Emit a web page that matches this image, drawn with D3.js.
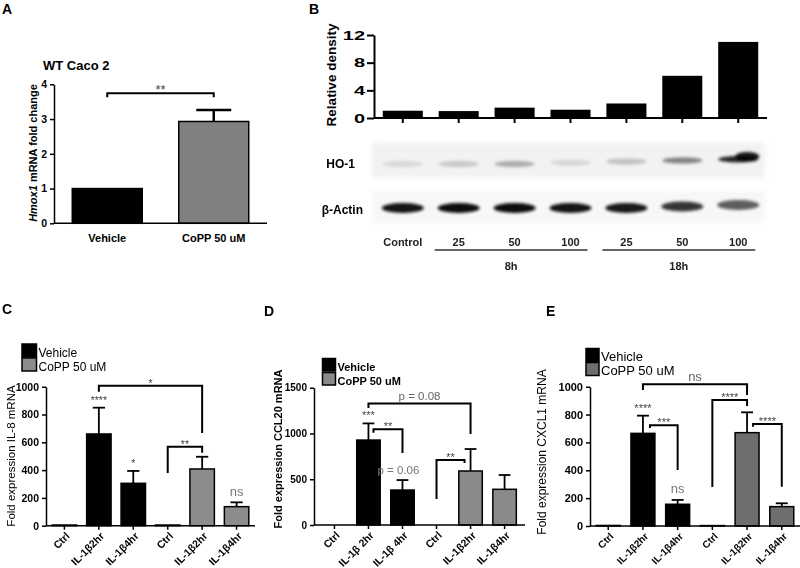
<!DOCTYPE html>
<html><head><meta charset="utf-8">
<script src="https://cdn.jsdelivr.net/npm/d3@7"></script>
<style>
body{margin:0;background:#fff}
svg text{font-family:"Liberation Sans",Arial,Helvetica,sans-serif}
</style>
</head><body>
<svg id="c" width="800" height="568"></svg>
<script>
// ---------------- DATA ----------------
// Panel A
const aCategories = ["Vehicle", "CoPP 50 uM"];
const aValues = [1.0, 2.93];
const aErrors = [0, 0.33];
const aTicks = [0, 1, 2, 3, 4];

// Panel B
const bCategories = ["Control", "25", "50", "100", "25", "50", "100"];
const bValues = [1.05, 1.0, 1.5, 1.2, 2.1, 6.1, 11.0];
const bTicks = [0, 4, 8, 12];
const bGroups = [{label: "8h", from: 1, to: 3}, {label: "18h", from: 4, to: 6}];
const blotHO1 = [0.10, 0.16, 0.28, 0.11, 0.20, 0.45, 0.85];
const blotActin = [0.92, 0.95, 0.95, 0.92, 0.9, 0.78, 0.62];

// Panels C, D, E
const seriesNames = ["Vehicle", "CoPP 50 uM"];
const seriesOfBar = [0, 0, 0, 1, 1, 1];
const cCategories = ["Ctrl", "IL-1β2hr", "IL-1β4hr", "Ctrl", "IL-1β2hr", "IL-1β4hr"];
const dCategories = ["Ctrl", "IL-1β 2hr", "IL-1β 4hr", "Ctrl", "IL-1β2hr", "IL-1β4hr"];
const eCategories = ["Ctrl", "IL-1β2hr", "IL-1β4hr", "Ctrl", "IL-1β2hr", "IL-1β4hr"];
const cValues = [5, 660, 305, 5, 408, 137];
const cErrors = [0, 189, 89, 0, 88, 31];
const dValues = [0, 928, 382, 0, 590, 390];
const dErrors = [0, 182, 109, 0, 240, 156];
const eValues = [4, 665, 156, 3, 670, 139];
const eErrors = [0, 127, 31, 0, 146, 24];
const cTicks = [0, 200, 400, 600, 800, 1000];
const dTicks = [0, 500, 1000, 1500];
const eTicks = [0, 200, 400, 600, 800, 1000];

// significance annotations (bar indices, levels in data units)
const aBrackets = [{a: 0, b: 1, y: 3.74, ya: 3.63, yb: 3.63, label: "**"}];
const cBrackets = [
  {a: 1, b: 4, y: 1007, ya: 964, yb: 667, label: "*"},
  {a: 3, b: 4, y: 568, ya: 379, yb: 525, label: "**"}
];
const cMarks = [{i: 1, label: "****"}, {i: 2, label: "*"}, {i: 5, label: "ns"}];
const dBrackets = [
  {a: 1, b: 4, y: 1328, ya: 1277, yb: 993, label: "p = 0.08"},
  {a: 1, b: 2, da: 5, y: 1045, ya: 1008, yb: 786, label: "**"},
  {a: 3, b: 4, db: -6, y: 710, ya: 284, yb: 677, label: "**"}
];
const dMarks = [{i: 1, label: "***"}, {i: 2, label: "p = 0.06", dx: -4}];
const eBrackets = [
  {a: 1, b: 4, y: 1017, ya: 976, yb: 940, label: "ns"},
  {a: 3, b: 4, y: 905, ya: 280, yb: 861, label: "****"},
  {a: 1, b: 2, da: 7, y: 723, ya: 703, yb: 402, label: "***"},
  {a: 4, b: 5, da: 6, y: 732, ya: 713, yb: 282, label: "****"}
];
const eMarks = [{i: 1, label: "****"}, {i: 2, label: "ns"}];

// ---------------- DRAWING ----------------
const svg = d3.select("#c");
const FONT = '"Liberation Sans", Arial, Helvetica, sans-serif';

function panelLetter(t, x, y) {
  svg.append("text").attr("x", x).attr("y", y).text(t)
    .attr("font-size", 14).attr("font-weight", "bold").attr("fill", "#000");
}

function barPanel(cfg) {
  const g = svg.append("g");
  const n = cfg.values.length;
  const x = d3.scaleBand().domain(d3.range(n)).range(cfg.xRange)
    .paddingInner(cfg.pi).paddingOuter(cfg.po);
  const y = d3.scaleLinear().domain(cfg.domain).range(cfg.yRange);
  const bw = x.bandwidth();
  const cx = i => x(i) + bw / 2;

  // bars
  g.selectAll("rect.bar").data(cfg.values).join("rect").attr("class", "bar")
    .attr("x", (d, i) => x(i)).attr("width", bw)
    .attr("y", d => y(d)).attr("height", d => y(0) - y(d))
    .attr("fill", (d, i) => cfg.colors[i])
    .attr("stroke", "#000").attr("stroke-width", cfg.barStroke);

  // error bars
  if (cfg.errors) {
    const eg = g.append("g").attr("stroke", "#000").attr("stroke-width", cfg.errStroke);
    cfg.errors.forEach((e, i) => {
      if (!e) return;
      const v = cfg.values[i];
      eg.append("line").attr("x1", cx(i)).attr("x2", cx(i)).attr("y1", y(v)).attr("y2", y(v + e));
      eg.append("line").attr("x1", cx(i) - bw / 4).attr("x2", cx(i) + bw / 4)
        .attr("y1", y(v + e)).attr("y2", y(v + e));
    });
  }

  // y axis
  const ya = g.append("g").attr("transform", `translate(${cfg.xRange[0]},0)`)
    .call(d3.axisLeft(y).tickValues(cfg.ticks).tickSize(cfg.yTickSize || 4)
      .tickSizeOuter(0).tickPadding(3).tickFormat(d3.format("d")));
  ya.select(".domain").attr("stroke-width", cfg.axisStroke);
  ya.selectAll(".tick line").attr("stroke-width", cfg.axisStroke);
  ya.selectAll("text").attr("font-family", FONT).attr("font-size", cfg.tickFont)
    .attr("font-weight", "bold").attr("fill", "#000");
  if (cfg.tickScaleX) {
    ya.selectAll("text").attr("transform", `scale(${cfg.tickScaleX},1)`)
      .attr("x", -(cfg.yTickSize + 2) / cfg.tickScaleX);
  }

  // x axis
  const xa = g.append("g").attr("transform", `translate(0,${y(0)})`)
    .call(d3.axisBottom(x).tickSize(cfg.xTickSize).tickSizeOuter(0)
      .tickFormat(i => cfg.categories ? cfg.categories[i] : ""));
  xa.select(".domain").attr("stroke-width", cfg.axisStroke).attr("d", `M${cfg.xRange[0]},0H${cfg.xRange[1]}`);
  xa.selectAll(".tick line").attr("stroke-width", cfg.axisStroke);
  const xt = xa.selectAll("text").attr("font-family", FONT).attr("font-size", cfg.xFont)
    .attr("font-weight", "bold").attr("fill", "#000");
  if (cfg.rotate) {
    xt.attr("x", 0).attr("y", 0).attr("dy", 0)
      .attr("text-anchor", "end")
      .attr("transform", `translate(${cfg.rotDx},${cfg.rotDy}) rotate(-45)`);
  } else {
    xt.attr("y", cfg.xLabelDy || 8);
  }

  // y label
  if (cfg.yLabel) {
    const t = g.append("text")
      .attr("transform", `translate(${cfg.yLabelX},${cfg.yLabelY}) rotate(-90)`)
      .attr("text-anchor", "middle").attr("font-size", cfg.yLabelFont)
      .attr("font-weight", cfg.yLabelWeight || "bold").attr("fill", "#000");
    cfg.yLabel.forEach(p => t.append("tspan").text(p.t).attr("font-style", p.italic ? "italic" : null));
  }

  // brackets
  (cfg.brackets || []).forEach(b => {
    const xa_ = cx(b.a) + (b.da || 0), xb_ = cx(b.b) + (b.db || 0);
    g.append("path")
      .attr("d", `M${xa_},${y(b.ya)}V${y(b.y)}H${xb_}V${y(b.yb)}`)
      .attr("fill", "none").attr("stroke", "#000").attr("stroke-width", cfg.bracketStroke);
    const isStar = b.label[0] === "*";
    g.append("text").attr("x", (xa_ + xb_) / 2)
      .attr("y", y(b.y) + (isStar ? 1 : -3.5))
      .attr("text-anchor", "middle").text(b.label)
      .attr("font-size", isStar ? cfg.starFont : cfg.noteFont)
      .attr("fill", isStar ? "#444" : "#666");
  });
  (cfg.marks || []).forEach(m => {
    const isStar = m.label[0] === "*";
    const top = cfg.values[m.i] + (cfg.errors ? cfg.errors[m.i] : 0);
    g.append("text").attr("x", cx(m.i) + (m.dx || 0))
      .attr("y", y(top) - (isStar ? 4 : 6.5))
      .attr("text-anchor", "middle").text(m.label)
      .attr("font-size", isStar ? cfg.starFont : cfg.noteFont)
      .attr("fill", isStar ? "#444" : "#777");
  });

  // legend
  if (cfg.legend) {
    const L = cfg.legend;
    seriesNames.forEach((s, k) => {
      g.append("rect").attr("x", L.x).attr("y", L.y + k * L.dy)
        .attr("width", L.w).attr("height", L.h)
        .attr("fill", k === 0 ? "#000" : cfg.gray).attr("stroke", "#000").attr("stroke-width", 1.5);
      g.append("text").attr("x", L.x + L.w + 2).attr("y", L.y + k * L.dy + L.h - 0.5)
        .text(s).attr("font-size", L.font).attr("font-weight", L.weight || "normal").attr("fill", "#000");
    });
  }
  return {g, x, y, cx, bw};
}

// ----- Panel A -----
panelLetter("A", 2, 14);
svg.append("text").attr("x", 43).attr("y", 70).text("WT Caco 2")
  .attr("font-size", 13).attr("font-weight", "bold");
barPanel({
  values: aValues, errors: aErrors, categories: aCategories,
  colors: ["#000", "#808080"],
  xRange: [54, 267], pi: 0.343, po: 0.1715,
  domain: [0, 4], yRange: [223.3, 84.3], ticks: aTicks,
  barStroke: 1.5, errStroke: 2.5, axisStroke: 1.5, tickFont: 10.5, yTickSize: 4,
  xTickSize: 0, xFont: 11, xLabelDy: 11,
  yLabel: [{t: "Hmox1", italic: true}, {t: " mRNA fold change"}],
  yLabelX: 37, yLabelY: 153, yLabelFont: 11,
  brackets: aBrackets, bracketStroke: 2, starFont: 13, noteFont: 12
});

// ----- Panel B -----
panelLetter("B", 309, 14);
const B = barPanel({
  values: bValues, colors: bValues.map(() => "#000"),
  xRange: [374, 767], pi: 0.284, po: 0.157,
  domain: [0, 12], yRange: [118, 35], ticks: bTicks,
  barStroke: 0, axisStroke: 2, tickFont: 12.5, tickScaleX: 1.6, yTickSize: 7,
  xTickSize: 5, xFont: 10,
  yLabel: [{t: "Relative density"}], yLabelX: 336, yLabelY: 75, yLabelFont: 13.5,
  bracketStroke: 2
});

// western blot
const defs = svg.append("defs");
defs.append("filter").attr("id", "blur").attr("x", "-30%").attr("y", "-100%")
  .attr("width", "160%").attr("height", "300%")
  .append("feGaussianBlur").attr("stdDeviation", 1.6);
defs.append("filter").attr("id", "blur2").attr("x", "-10%").attr("y", "-50%")
  .attr("width", "120%").attr("height", "200%")
  .append("feGaussianBlur").attr("stdDeviation", 2.5);
svg.append("rect").attr("x", 372).attr("y", 143).attr("width", 393).attr("height", 35)
  .attr("fill", "#f2f2f2").attr("filter", "url(#blur2)");
svg.append("rect").attr("x", 372).attr("y", 191).attr("width", 393).attr("height", 32)
  .attr("fill", "#f7f7f7").attr("filter", "url(#blur2)");
const blot = svg.append("g").attr("filter", "url(#blur)");
blot.selectAll("ellipse.ho").data(blotHO1).join("ellipse").attr("class", "ho")
  .attr("cx", (d, i) => B.cx(i)).attr("cy", (d, i) => 164 - (i > 2 ? (i - 2) * 1.2 : 0))
  .attr("rx", 20).attr("ry", 3.2).attr("fill", "#000").attr("opacity", d => d);
// strong right part of last HO-1 band
blot.append("ellipse").attr("cx", B.cx(6) + 9).attr("cy", 156.5).attr("rx", 12).attr("ry", 4.5)
  .attr("fill", "#000").attr("opacity", 0.9);
blot.selectAll("ellipse.ac").data(blotActin).join("ellipse").attr("class", "ac")
  .attr("cx", (d, i) => B.cx(i)).attr("cy", (d, i) => 208 - (i > 4 ? (i - 4) * 1.5 : 0))
  .attr("rx", 21).attr("ry", 5).attr("fill", "#000").attr("opacity", d => d);
svg.append("text").attr("x", 355).attr("y", 167.5).attr("text-anchor", "end")
  .text("HO-1").attr("font-size", 12).attr("font-weight", "bold");
svg.append("text").attr("x", 363).attr("y", 213.5).attr("text-anchor", "end")
  .text("β-Actin").attr("font-size", 12).attr("font-weight", "bold");
svg.selectAll("text.blab").data(bCategories).join("text").attr("class", "blab")
  .attr("x", (d, i) => B.cx(i)).attr("y", 246).attr("text-anchor", "middle")
  .text(d => d).attr("font-size", 11).attr("font-weight", "bold").attr("fill", "#222");
bGroups.forEach(gr => {
  const x1 = B.x(gr.from) - 4, x2 = B.x(gr.to) + B.bw - 3;
  svg.append("line").attr("x1", x1).attr("x2", x2).attr("y1", 250).attr("y2", 250)
    .attr("stroke", "#333").attr("stroke-width", 1.5);
  svg.append("text").attr("x", (x1 + x2) / 2).attr("y", 270).attr("text-anchor", "middle")
    .text(gr.label).attr("font-size", 11).attr("font-weight", "bold").attr("fill", "#222");
});

// ----- Panel C -----
panelLetter("C", 2, 314);
barPanel({
  values: cValues, errors: cErrors, categories: cCategories,
  colors: seriesOfBar.map(s => s ? "#8c8c8c" : "#000"), gray: "#8c8c8c",
  xRange: [46, 255], pi: 0.29, po: 0.18,
  domain: [0, 1000], yRange: [525.7, 386.7], ticks: cTicks,
  barStroke: 1.5, errStroke: 1.8, axisStroke: 1.5, tickFont: 10.5, yTickSize: 4,
  xTickSize: 4, xFont: 10.5, rotate: true, rotDx: 6, rotDy: 11,
  yLabel: [{t: "Fold expression IL-8 mRNA"}], yLabelX: 14.5, yLabelY: 456, yLabelFont: 11.5, yLabelWeight: "normal",
  brackets: cBrackets, marks: cMarks, bracketStroke: 2, starFont: 10.5, noteFont: 13,
  legend: {x: 22, y: 344, w: 14.5, h: 13, dy: 14, font: 12}
});

// ----- Panel D -----
panelLetter("D", 264, 316);
barPanel({
  values: dValues, errors: dErrors, categories: dCategories,
  colors: seriesOfBar.map(s => s ? "#8a8a8a" : "#000"), gray: "#8a8a8a",
  xRange: [314, 525], pi: 0.31, po: 0.255,
  domain: [0, 1500], yRange: [525, 387.7], ticks: dTicks,
  barStroke: 1.5, errStroke: 1.8, axisStroke: 1.5, tickFont: 10, yTickSize: 4,
  xTickSize: 4, xFont: 10.5, rotate: true, rotDx: 6, rotDy: 11,
  yLabel: [{t: "Fold expression CCL20 mRNA"}], yLabelX: 282, yLabelY: 449, yLabelFont: 11, yLabelWeight: "bold",
  brackets: dBrackets, marks: dMarks, bracketStroke: 2, starFont: 11, noteFont: 11.5,
  legend: {x: 322.5, y: 358.5, w: 13, h: 12.5, dy: 14, font: 11, weight: "bold"}
});

// ----- Panel E -----
panelLetter("E", 546, 316);
barPanel({
  values: eValues, errors: eErrors, categories: eCategories,
  colors: seriesOfBar.map(s => s ? "#6e6e6e" : "#000"), gray: "#6e6e6e",
  xRange: [590, 800], pi: 0.31, po: 0.18,
  domain: [0, 1000], yRange: [526, 386.7], ticks: eTicks,
  barStroke: 1.5, errStroke: 1.8, axisStroke: 1.5, tickFont: 11, yTickSize: 4,
  xTickSize: 4, xFont: 10, rotate: true, rotDx: 6, rotDy: 11,
  yLabel: [{t: "Fold expression CXCL1 mRNA"}], yLabelX: 546, yLabelY: 452, yLabelFont: 12, yLabelWeight: "normal",
  brackets: eBrackets, marks: eMarks, bracketStroke: 2, starFont: 11, noteFont: 13,
  legend: {x: 586, y: 348.5, w: 13, h: 13, dy: 14, font: 13}
});
</script>
</body></html>
